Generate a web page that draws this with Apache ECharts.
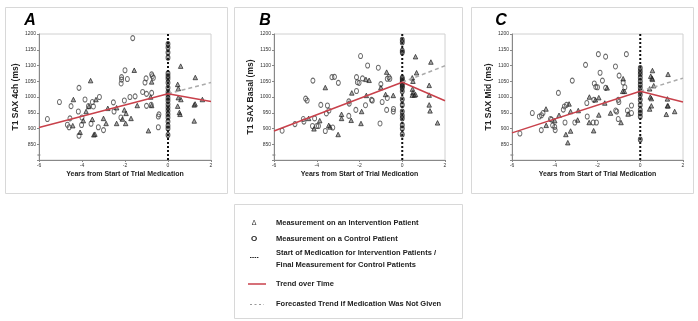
<!DOCTYPE html>
<html><head><meta charset="utf-8">
<script src="https://cdn.jsdelivr.net/npm/echarts@6/dist/echarts.min.js"></script>
<style>html,body{margin:0;padding:0;background:#fff}#c{width:698px;height:321px}</style>
</head><body><div id="c"></div>
<script>
// ---------- DATA ----------
const panelLetters = ['A', 'B', 'C'];
const yTitles = ['T1 SAX 4ch (ms)', 'T1 SAX Basal (ms)', 'T1 SAX Mid (ms)'];
const xTitle = 'Years from Start of Trial Medication';

// Panel A
const aControl = [[-5.61,930],[-5.05,984],[-4.51,971],[-4.56,932],[-4.68,912],[-4.6,904],[-4.14,1029],[-4.17,954],[-4.14,877],[-4.0,935],[-4.02,911],[-3.86,992],[-3.7,971],[-3.52,984],[-3.47,970],[-3.19,1000],[-3.58,915],[-3.24,904],[-3.0,895],[-2.54,983],[-2.51,954],[-2.19,935],[-2.16,1063],[-2.16,1055],[-2.18,1043],[-2.0,1085],[-1.89,1057],[-2.03,989],[-1.64,1187],[-1.77,1000],[-1.53,1002],[-1.18,1016],[-1.07,1046],[-1.02,1059],[-1.0,1010],[-0.76,1072],[-0.73,1066],[-0.68,1061],[-0.76,1013],[-0.42,945],[-0.45,938],[-0.45,904],[-1.0,972],[-0.78,975]];
const aIntervention = [[-4.4,992],[-4.43,909],[-4.09,888],[-3.94,925],[-3.6,1052],[-3.81,954],[-3.68,970],[-3.35,992],[-3.52,929],[-3.45,880],[-3.4,882],[-3.0,932],[-2.88,916],[-2.8,964],[-2.39,966],[-2.39,916],[-2.12,930],[-2.03,959],[-1.95,948],[-1.97,916],[-1.72,932],[-1.57,1085],[-1.43,973],[-0.76,1048],[-0.81,1000],[-0.76,973],[-0.91,893],[0.59,1098],[1.27,1062],[0.45,1040],[0.48,1027],[0.48,998],[0.6,992],[0.45,971],[0.53,951],[0.56,945],[1.22,975],[1.26,978],[1.6,992],[1.22,924]];
const aAtStart = [1168,1157,1141,1125,1075,1066,1058,1045,1029,1016,1007,997,988,977,967,956,945,935,922,909,900,879];
const aTrend = [[-6,903],[0,1010],[2,986]];
const aForecast = [[0,1010],[2,1046]];

// Panel B
const bControl = [[-5.62,893],[-5.02,914],[-4.63,930],[-4.6,922],[-4.52,995],[-4.45,989],[-4.2,908],[-4.1,932],[-4.0,908],[-3.92,908],[-4.18,1052],[-3.81,975],[-3.5,973],[-3.6,892],[-3.55,948],[-3.43,957],[-3.25,903],[-3.29,1063],[-3.17,1064],[-2.99,1045],[-2.5,940],[-2.5,986],[-2.48,979],[-2.14,1019],[-2.14,1063],[-2.1,1047],[-2.02,1045],[-2.17,959],[-1.95,1130],[-1.86,1059],[-1.72,974],[-1.62,1100],[-1.44,991],[-1.4,989],[-1.12,1093],[-1.04,916],[-0.94,984],[-1.0,1041],[-0.73,959],[-0.7,997],[-0.7,1058],[-0.62,1063],[-0.58,1058],[-0.41,962],[-0.42,954]];
const bIntervention = [[-4.38,932],[-4.13,899],[-3.86,925],[-3.6,1030],[-3.44,910],[-3.38,905],[-3.0,881],[-2.84,945],[-2.84,932],[-2.39,926],[-2.36,1013],[-1.93,916],[-1.9,954],[-1.7,1056],[-1.55,1053],[-1.68,1005],[-1.0,1030],[-0.73,1079],[-0.78,1008],[-0.42,1005],[0.62,1128],[1.34,1111],[0.67,1077],[0.47,1061],[0.5,1050],[0.48,1025],[0.5,1014],[0.56,1006],[0.47,1006],[0.62,1008],[1.26,1037],[1.26,1006],[1.26,975],[1.3,956],[1.65,918]];
const bAtStart = [1182,1173,1147,1141,1061,1056,1050,1045,1040,1034,1029,1018,993,975,954,941,932,911,900,881];
const bTrend = [[-6,892],[0,1047],[2,988]];
const bForecast = [[0,1047],[2,1099]];

// Panel C
const cControl = [[-5.63,884],[-5.05,949],[-4.72,938],[-4.62,942],[-4.55,949],[-4.63,895],[-4.2,930],[-4.15,928],[-4.1,910],[-4.0,905],[-3.98,895],[-3.83,1013],[-3.6,960],[-3.55,970],[-3.45,975],[-3.18,1052],[-3.52,919],[-3.06,919],[-2.56,1102],[-2.48,938],[-2.5,981],[-2.2,919],[-2.15,1043],[-2.08,1032],[-2.0,1031],[-2.17,991],[-2.05,919],[-1.96,1136],[-1.62,1128],[-1.88,1077],[-1.77,1052],[-1.62,1029],[-1.16,1097],[-0.99,1068],[-1.15,957],[-1.1,954],[-1.03,930],[-1.03,991],[-1.0,984],[-0.8,1046],[-0.72,1031],[-0.65,1136],[-0.6,957],[-0.41,973],[-0.41,949]];
const cIntervention = [[-4.41,962],[-4.4,910],[-4.0,925],[-3.8,942],[-3.33,978],[-3.48,881],[-3.39,855],[-3.26,892],[-3.26,954],[-2.93,927],[-2.9,957],[-2.39,919],[-2.38,1000],[-2.18,893],[-2.1,991],[-1.94,998],[-1.94,943],[-1.55,1029],[-1.66,981],[-1.39,949],[-0.9,919],[-0.8,1058],[-0.82,1018],[-0.74,1018],[-0.57,946],[0.57,1084],[0.49,1066],[0.55,1060],[0.57,1056],[0.63,1036],[0.44,1026],[1.3,1072],[0.47,1000],[0.52,995],[0.52,972],[0.44,962],[1.27,994],[1.27,972],[1.3,972],[1.22,945],[1.61,954]];
const cAtStart = [1092,1082,1072,1061,1050,1040,1029,1018,1007,991,975,959,949,938,865];
const cTrend = [[-6,886],[0,1018],[2,984]];
const cForecast = [[0,1018],[2,1060]];

const legendLabels = ['Measurement on an Intervention Patient', 'Measurement on a Control Patient', 'Start of Medication for Intervention Patients /\nFinal Measurement for Control Patients', 'Trend over Time', 'Forecasted Trend if Medication Was Not Given'];

// ---------- CHART ----------
const FONT = 'Liberation Sans, Arial, sans-serif';
const panels = [
  {control: aControl, inter: aIntervention, start: aAtStart, trend: aTrend, fc: aForecast},
  {control: bControl, inter: bIntervention, start: bAtStart, trend: bTrend, fc: bForecast},
  {control: cControl, inter: cIntervention, start: cAtStart, trend: cTrend, fc: cForecast}
];
const grids = [
  {left: 39, top: 34, width: 172, height: 126},
  {left: 274, top: 34, width: 171, height: 126},
  {left: 512, top: 34, width: 171, height: 126}
];
const boxes = [[5, 7, 222, 186], [234, 7, 228, 186], [471, 7, 222, 186]];
const letterX = [30, 265, 501];

const grid = [], xAxis = [], yAxis = [], series = [], graphic = [];
grids.forEach((g, i) => {
  grid.push(Object.assign({show: true, borderColor: '#d0d0d0', borderWidth: 1, backgroundColor: 'transparent'}, g));
  xAxis.push({
    gridIndex: i, type: 'value', min: -6, max: 2, interval: 2,
    name: xTitle, nameLocation: 'middle', nameGap: 11,
    nameTextStyle: {fontFamily: FONT, fontSize: 7, fontWeight: 'bold', color: '#222'},
    axisLine: {show: true, onZero: false, lineStyle: {color: '#888', width: 1}},
    axisTick: {show: true, length: 2, lineStyle: {color: '#888'}},
    axisLabel: {fontFamily: FONT, fontSize: 5, color: '#333', margin: 3},
    splitLine: {show: false}
  });
  yAxis.push({
    gridIndex: i, type: 'value', min: 800, max: 1200, interval: 50,
    name: yTitles[i], nameLocation: 'middle', nameGap: 19, nameRotate: 90,
    nameTextStyle: {fontFamily: FONT, fontSize: 8.5, fontWeight: 'bold', color: '#222'},
    axisLine: {show: true, onZero: false, lineStyle: {color: '#888', width: 1}},
    axisTick: {show: true, length: 2, lineStyle: {color: '#888'}},
    axisLabel: {fontFamily: FONT, fontSize: 5, color: '#333', margin: 3, formatter: v => v === 800 ? '' : String(v)},
    splitLine: {show: false}
  });
  const p = panels[i];
  series.push({
    type: 'line', xAxisIndex: i, yAxisIndex: i, data: [[0, 800], [0, 1200]], symbol: 'none',
    lineStyle: {color: '#111', width: 2, type: [2, 2]}, silent: true, z: 2
  });
  series.push({
    type: 'scatter', xAxisIndex: i, yAxisIndex: i, data: p.control, symbol: 'circle', symbolSize: [4, 5],
    itemStyle: {color: 'rgba(255,255,255,0)', borderColor: '#444', borderWidth: 1}, z: 3
  });
  series.push({
    type: 'scatter', xAxisIndex: i, yAxisIndex: i, data: p.inter, symbol: 'triangle', symbolSize: [4.5, 4.5],
    itemStyle: {color: 'rgba(50,50,50,0.55)', borderColor: '#222', borderWidth: 0.9}, z: 3
  });
  series.push({
    type: 'scatter', xAxisIndex: i, yAxisIndex: i, data: p.start.map((v, k) => [0, v]),
    symbol: 'circle', symbolSize: [4, 5],
    itemStyle: {color: 'rgba(40,40,40,0.5)', borderColor: '#222', borderWidth: 0.9}, z: 3
  });
  series.push({
    type: 'line', xAxisIndex: i, yAxisIndex: i, data: p.fc, symbol: 'none',
    lineStyle: {color: '#aaa', width: 1.5, type: [4, 3]}, z: 4
  });
  series.push({
    type: 'line', xAxisIndex: i, yAxisIndex: i, data: p.trend, symbol: 'none',
    lineStyle: {color: '#c8414b', width: 1.5}, z: 5
  });
  graphic.push({type: 'rect', shape: {x: boxes[i][0] + 0.5, y: boxes[i][1] + 0.5, width: boxes[i][2], height: boxes[i][3]},
    style: {fill: 'none', stroke: '#d8d8d8', lineWidth: 1}, silent: true});
  graphic.push({type: 'text', x: letterX[i], y: 21, style: {text: panelLetters[i], font: 'italic bold 16px ' + FONT, fill: '#000', textAlign: 'center', textVerticalAlign: 'middle'}});
  graphic.push({type: 'text', x: g.left, y: 155, style: {text: '≈', font: '6px ' + FONT, fill: '#666', textAlign: 'center', textVerticalAlign: 'middle'}});
});

// legend box
graphic.push({type: 'rect', shape: {x: 234.5, y: 204.5, width: 228, height: 114}, style: {fill: 'none', stroke: '#d8d8d8', lineWidth: 1}});
const legY = [223, 239, 258.5, 284, 304];
legendLabels.forEach((t, k) => {
  graphic.push({type: 'text', x: 276, y: legY[k], style: {text: t, font: 'bold 7.5px ' + FONT, fill: '#222', textVerticalAlign: 'middle', lineHeight: 12}});
});
graphic.push({type: 'text', x: 254, y: 223, style: {text: 'Δ', font: '7px ' + FONT, fill: '#333', textAlign: 'center', textVerticalAlign: 'middle'}});
graphic.push({type: 'text', x: 254, y: 239, style: {text: 'O', font: 'bold 8px ' + FONT, fill: '#222', textAlign: 'center', textVerticalAlign: 'middle'}});
graphic.push({type: 'line', shape: {x1: 250, y1: 257.5, x2: 259, y2: 257.5}, style: {stroke: '#222', lineWidth: 1, lineDash: [1.5, 0.8]}});
graphic.push({type: 'line', shape: {x1: 248, y1: 284, x2: 266, y2: 284}, style: {stroke: '#c8414b', lineWidth: 1.5}});
graphic.push({type: 'line', shape: {x1: 250, y1: 304.5, x2: 264, y2: 304.5}, style: {stroke: '#999', lineWidth: 1, lineDash: [2, 2.5]}});

const chart = echarts.init(document.getElementById('c'), null, {renderer: 'canvas'});
chart.setOption({animation: false, backgroundColor: '#fff', grid, xAxis, yAxis, series, graphic});
</script></body></html>
